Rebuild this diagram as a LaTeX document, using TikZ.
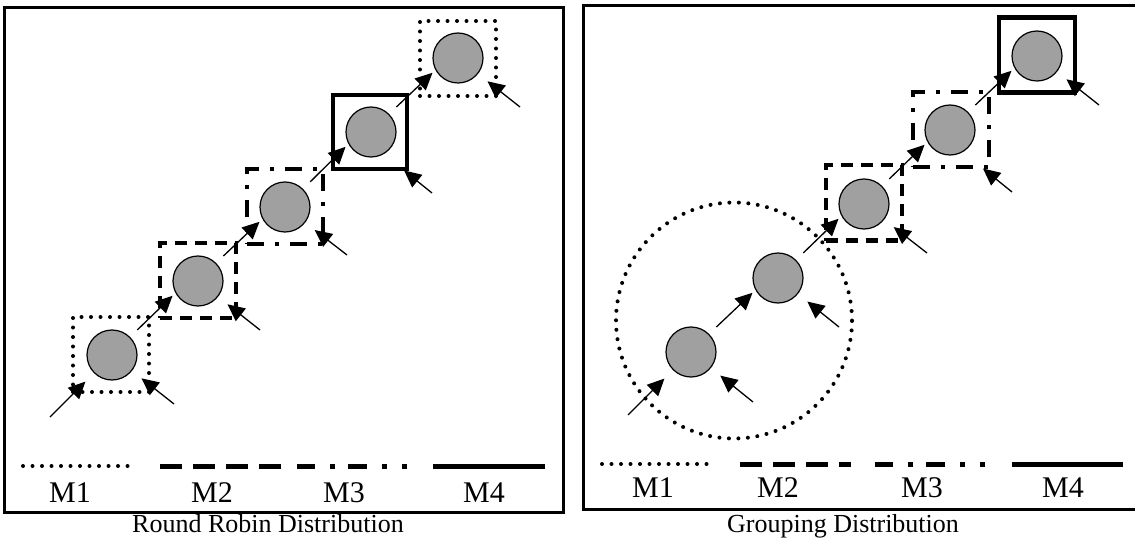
\documentclass[tikz,border=0pt]{standalone}
\usepackage{fontspec}
\setmainfont{Liberation Serif}
\usetikzlibrary{arrows.meta}
\definecolor{ballgray}{RGB}{160,160,160}
\tikzset{
  ball/.style={circle, draw=black, line width=1.2pt, fill=ballgray, minimum size=50pt, inner sep=0pt},
  cell/.style={rectangle, minimum width=76pt, minimum height=75pt, inner sep=0pt},
  dotline/.style={line width=4pt, line cap=round, dash pattern=on 0pt off 9.5pt},
  dashline/.style={line width=4pt, dash pattern=on 12pt off 8pt},
  dashdotline/.style={line width=4pt, dash pattern=on 17pt off 11pt on 4pt off 11pt},
  solidline/.style={line width=4.5pt},
  legdash/.style={line width=5pt, dash pattern=on 22pt off 11pt},
  legdashdot/.style={line width=5pt, dash pattern=on 18pt off 15pt on 5pt off 13pt on 19pt off 15pt on 5pt off 15pt on 5pt off 30pt},
  arr/.style={line width=1.3pt, -{Triangle[length=17pt,width=16pt]}},
  frame/.style={line width=3pt},
  mlabel/.style={font=\fontsize{30}{32}\selectfont, anchor=base, inner sep=0pt},
  caption/.style={font=\fontsize{26}{28}\selectfont, anchor=base, inner sep=0pt},
}
\begin{document}
\begin{tikzpicture}[x=1pt, y=-1pt]
\useasboundingbox (0,0) rectangle (1135,540);

% ---------- Round Robin panel ----------
\draw[frame] (4.5,8) rectangle (563,512);

\node[ball] (a1) at (112,355) {};
\node[ball] (a2) at (198,281) {};
\node[ball] (a3) at (285,207) {};
\node[ball] (a4) at (371,132) {};
\node[ball] (a5) at (458,58) {};

\node[cell, draw, dotline]     (p1) at (111,354.5) {};
\node[cell, draw, dashline]    (p2) at (198,280.5) {};
\node[cell, draw, dashdotline] (p3) at (285,206.5) {};
\node[cell, minimum width=74pt, minimum height=74pt, draw, solidline] (p4) at (370,132) {};
\node[cell, draw, dotline]     (p5) at (458,58.5) {};

% tails of the incoming arrows
\coordinate (ain) at (50,417);
\coordinate (ar1) at (174,404);
\coordinate (ar2) at (260,330);
\coordinate (ar3) at (347,255);
\coordinate (ar4) at (432,193);
\coordinate (ar5) at (520,107);

\draw[arr, shorten >=12pt] (ain) -- (a1);
\draw[arr, shorten >=12pt] (ar1) -- (a1);
\draw[arr, shorten >=12pt] (ar2) -- (a2);
\draw[arr, shorten >=12pt] (ar3) -- (a3);
\draw[arr, shorten >=26pt] (ar4) -- (a4.-60);
\draw[arr, shorten >=12pt] (ar5) -- (a5);

\draw[arr, shorten <=10pt, shorten >=4pt] (a1.45) -- (a2.208);
\draw[arr, shorten <=10pt, shorten >=4pt] (a2.45) -- (a3.208);
\draw[arr, shorten <=10pt, shorten >=4pt] (a3.45) -- (a4.208);
\draw[arr, shorten <=10pt, shorten >=4pt] (a4.45) -- (a5.208);

% legend
\draw[dotline] (23,466) -- (130,466);
\draw[legdash] (160,466) -- (281,466);
\draw[legdashdot] (297,466) -- (408,466);
\draw[line width=5pt] (433,466) -- (545,466);
\node[mlabel] (l1) at (70,502) {M1};
\node[mlabel] (l2) at (212,502) {M2};
\node[mlabel] (l3) at (344,502) {M3};
\node[mlabel] (l4) at (484,502) {M4};
\node[caption] (c1) at (268,532) {Round Robin Distribution};

% ---------- Grouping panel ----------
\draw[frame] (583.5,6) rectangle (1137,509);

\node[circle, draw, dotline, minimum size=236pt, inner sep=0pt] (g) at (734,320.5) {};

\node[ball] (b1) at (691,352) {};
\node[ball] (b2) at (778,278) {};
\node[ball] (b3) at (864,204) {};
\node[ball] (b4) at (950,130) {};
\node[ball] (b5) at (1037,56) {};

\node[cell, draw, dashline]    (q3) at (863.5,203) {};
\node[cell, draw, dashdotline] (q4) at (950.5,130) {};
\node[cell, draw, solidline]   (q5) at (1037,55) {};

\coordinate (bin) at (628,415);
\coordinate (br1) at (753,402);
\coordinate (br2) at (839,327);
\coordinate (br3) at (927,253);
\coordinate (br4) at (1012,192);
\coordinate (br5) at (1099,105);

\draw[arr, shorten >=12pt] (bin) -- (b1);
\draw[arr, shorten >=12pt] (br1) -- (b1);
\draw[arr, shorten >=12pt] (br2) -- (b2);
\draw[arr, shorten >=12pt] (br3) -- (b3);
\draw[arr, shorten >=26pt] (br4) -- (b4.-60);
\draw[arr, shorten >=12pt] (br5) -- (b5);

\draw[arr, shorten <=10pt, shorten >=4pt] (b1.45) -- (b2.208);
\draw[arr, shorten <=10pt, shorten >=4pt] (b2.45) -- (b3.208);
\draw[arr, shorten <=10pt, shorten >=4pt] (b3.45) -- (b4.208);
\draw[arr, shorten <=10pt, shorten >=4pt] (b4.45) -- (b5.208);

% legend
\draw[dotline] (602,464) -- (710,464);
\draw[legdash] (740,464) -- (851,464);
\draw[legdashdot] (875,464) -- (987,464);
\draw[line width=5pt] (1012,464) -- (1123,464);
\node[mlabel] (m1) at (653,497) {M1};
\node[mlabel] (m2) at (778,497) {M2};
\node[mlabel] (m3) at (922,497) {M3};
\node[mlabel] (m4) at (1063,497) {M4};
\node[caption] (c2) at (843,532) {Grouping Distribution};
\end{tikzpicture}
\end{document}
